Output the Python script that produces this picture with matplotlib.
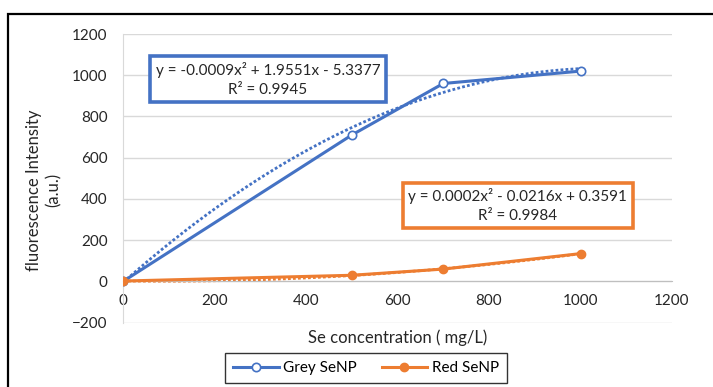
import numpy as np
import matplotlib
matplotlib.use("Agg")
import matplotlib.pyplot as plt
from matplotlib.patches import Rectangle

plt.rcParams['font.family'] = ['Lato', 'DejaVu Sans']

# Se concentration (mg/L) and fluorescence intensity (a.u.)
conc = [0, 500, 700, 1000]
grey_senp = [0, 710, 960, 1020]
red_senp = [2, 30, 60, 135]

x_ticks = [0, 200, 400, 600, 800, 1000, 1200]
y_ticks = [-200, 0, 200, 400, 600, 800, 1000, 1200]

grey_eq = "y = -0.0009x² + 1.9551x - 5.3377\nR² = 0.9945"
red_eq = "y = 0.0002x² - 0.0216x + 0.3591\nR² = 0.9984"

BLUE = "#4472C4"
ORANGE = "#ED7D31"

fig = plt.figure(figsize=(7.13, 3.87), dpi=100)
ax = fig.add_axes([123 / 713, 1 - 322.7 / 387, (672 - 123) / 713, (322.7 - 34) / 387])

# outer chart frame
fig.add_artist(Rectangle((8 / 713, -0.2), 1.2, 1 - 14 / 387 + 0.2,
                         transform=fig.transFigure, fill=False,
                         edgecolor="black", linewidth=1.6))

ax.set_xlim(0, 1200)
ax.set_ylim(-200, 1200)
ax.set_xticks(x_ticks)
ax.set_yticks(y_ticks)
ax.yaxis.grid(True, color="#d9d9d9", linewidth=1.0)
ax.set_axisbelow(True)
for s in ("top", "right"):
    ax.spines[s].set_visible(False)
ax.spines["bottom"].set_position(("data", 0))
ax.spines["bottom"].set_color("#bfbfbf")
ax.spines["left"].set_color("#d9d9d9")
ax.tick_params(axis="both", length=0, labelsize=11, colors="#262626")
ax.tick_params(axis="x", pad=9)
ax.tick_params(axis="y", pad=11)

# polynomial (order 2) trend lines
xs = np.linspace(0, 1000, 200)
for ys, col in ((grey_senp, BLUE), (red_senp, ORANGE)):
    coef = np.polyfit(conc, ys, 2)
    ax.plot(xs, np.polyval(coef, xs), linestyle=(0, (1, 0.8)), color=col,
            linewidth=2.0, zorder=2)

ax.plot(conc, grey_senp, color=BLUE, linewidth=2.2, marker="o", markersize=6,
        markerfacecolor="white", markeredgecolor=BLUE, markeredgewidth=1.2,
        label="Grey SeNP", zorder=3)
ax.plot(conc, red_senp, color=ORANGE, linewidth=2.2, marker="o", markersize=6,
        markerfacecolor=ORANGE, markeredgecolor=ORANGE,
        label="Red SeNP", zorder=3)

ax.text(317, 981, grey_eq, ha="center", va="center", fontsize=11,
        color="#262626", linespacing=1.45, zorder=5,
        bbox=dict(boxstyle="square,pad=0.35", facecolor="white",
                  edgecolor=BLUE, linewidth=2.6))
ax.text(863, 369, red_eq, ha="center", va="center", fontsize=11,
        color="#262626", linespacing=1.45, zorder=5,
        bbox=dict(boxstyle="square,pad=0.35", facecolor="white",
                  edgecolor=ORANGE, linewidth=2.6))

ax.set_xlabel("Se concentration ( mg/L)", fontsize=12, color="#262626")
ax.xaxis.set_label_coords((398 - 123) / (672 - 123), -(329 - 322.7) / (322.7 - 34))
ax.set_ylabel("fluorescence Intensity\n(a.u.)", fontsize=12, color="#262626",
              linespacing=1.3)
ax.yaxis.set_label_coords(-(123 - 62) / (672 - 123), (322.7 - 190) / (322.7 - 34))

leg = fig.legend(loc="center", bbox_to_anchor=(366 / 713, 1 - 368 / 387),
                 ncol=2, frameon=True, fancybox=False, fontsize=11,
                 handlelength=3.0, columnspacing=1.6, borderpad=0.5,
                 handletextpad=0.3)
leg.get_frame().set_edgecolor("black")
leg.get_frame().set_linewidth(1.0)

fig.savefig("out.png", dpi=100)
